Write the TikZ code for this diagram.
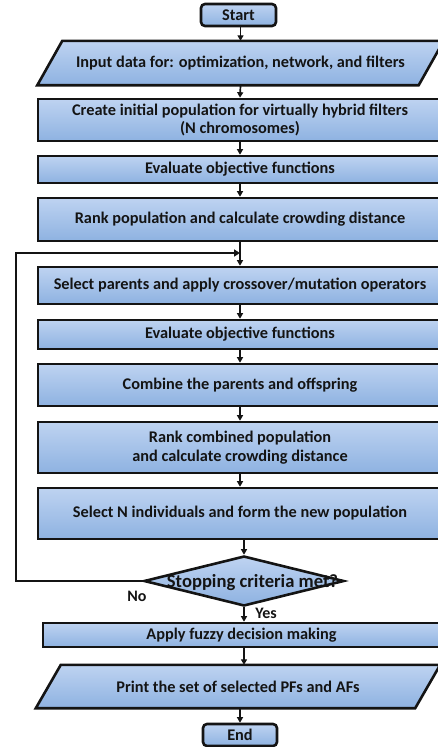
\documentclass[tikz,border=0pt]{standalone}
\usepackage{fontspec}
\setmainfont{Carlito}
\usetikzlibrary{shapes.geometric,arrows.meta,backgrounds}
\definecolor{boxtop}{RGB}{190,211,241}
\definecolor{boxbot}{RGB}{142,178,225}
\definecolor{edge}{RGB}{20,20,20}
\tikzset{
  x=1pt,y=-1pt,
  every node/.style={font=\fontsize{16.3}{18}\selectfont\bfseries, text=edge, align=center},
  fillstyle/.style={draw=edge, line width=2.6pt, top color=boxtop, bottom color=boxbot},
  stepbox/.style={fillstyle, minimum width=404pt, inner sep=0pt},
  termbox/.style={stepbox, rounded corners=4pt, minimum width=75pt, minimum height=22pt},
  iotext/.style={inner sep=0pt, minimum width=380pt},
  decbox/.style={fillstyle, diamond, aspect=4, inner sep=0pt, minimum width=200pt, minimum height=50pt},
  arr/.style={draw=edge, line width=1.7pt, -{Triangle[length=5.5pt,width=6pt]}},
  looparr/.style={draw=edge, line width=2.8pt, -{Triangle[length=6pt,width=7pt]}},
  lbl/.style={font=\fontsize{16}{18}\selectfont\bfseries},
  dectxt/.style={font=\fontsize{18.6}{20}\selectfont\bfseries}
}
\begin{document}
\begin{tikzpicture}
\useasboundingbox (0,0) rectangle (438,747);

\node[termbox] (start) at (238.5,15) {Start};
\node[iotext, minimum height=44pt] (input) at (240.5,63) {Input data for: optimization, network, and filters};
\node[stepbox, minimum height=42pt] (create) at (240,120) {Create initial population  for virtually hybrid filters\\(N chromosomes)};
\node[stepbox, minimum height=27pt] (eval1) at (240,169.5) {Evaluate objective functions};
\node[stepbox, minimum height=43pt] (rank) at (240,219.5) {Rank population  and calculate crowding distance};
\coordinate (join) at (240,253);
\node[stepbox, minimum height=37pt] (select) at (240,285.5) {Select parents and apply crossover/mutation operators};
\node[stepbox, minimum height=29pt] (eval2) at (240,334.5) {Evaluate objective functions};
\node[stepbox, minimum height=42pt] (combine) at (240,385) {Combine  the parents and offspring};
\node[stepbox, minimum height=51pt] (rankc) at (240,447.5) {Rank combined population\\[1pt]and calculate crowding distance};
\node[stepbox, minimum height=51pt] (seln) at (240,513.5) {Select N individuals  and form the new population};
\node[decbox] (dec) at (244,581) {};
\node[dectxt] (dectext) at (252.5,583) {Stopping criteria met?};
\node[stepbox, minimum width=397pt, minimum height=24pt] (apply) at (241.5,635) {Apply fuzzy decision  making};
\node[iotext, minimum height=43pt] (print) at (238,686.5) {Print the set of selected PFs and AFs};
\node[termbox, minimum width=74pt] (end) at (240,735) {End};

\begin{scope}[on background layer]
  \path[fillstyle] ([xshift=-13pt]input.south west) -- ([xshift=12pt]input.north west)
     -- ([xshift=13pt]input.north east) -- ([xshift=-12pt]input.south east) -- cycle;
  \path[fillstyle] ([xshift=-12pt]print.south west) -- ([xshift=13pt]print.north west)
     -- ([xshift=12pt]print.north east) -- ([xshift=-13pt]print.south east) -- cycle;
\end{scope}

\coordinate (lc) at (16,581);
\coordinate (lt) at (16,253);

\node[lbl] (no) at (137,596) {No};
\node[lbl] (yes) at (266,613) {Yes};

\draw[arr] (start.south -| input.north) -- (input.north);
\draw[arr] (input.south) -- (create.north);
\draw[arr] (create.south) -- (eval1.north);
\draw[arr] (eval1.south) -- (rank.north);
\draw[arr] (rank.south) -- (select.north);
\draw[looparr] (dec.west) -- (lc) -- (lt) -- (join);
\draw[arr] (select.south) -- (eval2.north);
\draw[arr] (eval2.south) -- (combine.north);
\draw[arr] (combine.south) -- (rankc.north);
\draw[arr] (rankc.south) -- (seln.north);
\draw[arr] (seln.south -| dec.north) -- (dec.north);
\draw[arr] (dec.south) -- (dec.south |- apply.north);
\draw[arr] (apply.south -| dec.south) -- (print.north -| dec.south);
\draw[arr] (print.south -| end.north) -- (end.north);
\end{tikzpicture}
\end{document}
